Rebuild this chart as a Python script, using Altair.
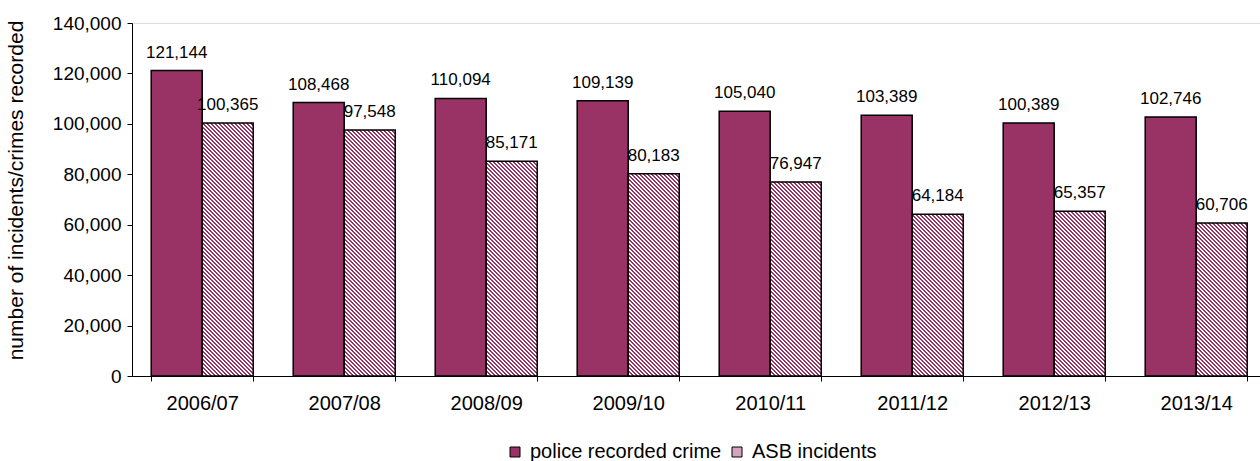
import math
import altair as alt
import pandas as pd

years = ["2006/07", "2007/08", "2008/09", "2009/10", "2010/11", "2011/12", "2012/13", "2013/14"]
crime = [121144, 108468, 110094, 109139, 105040, 103389, 100389, 102746]
asb = [100365, 97548, 85171, 80183, 76947, 64184, 65357, 60706]
series_names = ["police recorded crime", "ASB incidents"]

MAROON = "#993366"
FONT = "Liberation Sans"
PLOT_W, PLOT_H = 1128, 353
YMAX = 140000

rows = []
for y, c, a in zip(years, crime, asb):
    rows.append({"year": y, "series": series_names[0], "value": c, "label": f"{c:,}"})
    rows.append({"year": y, "series": series_names[1], "value": a, "label": f"{a:,}"})
df = pd.DataFrame(rows)

x_enc = alt.X(
    "year:N",
    sort=years,
    scale=alt.Scale(domain=years, paddingInner=0.2817, paddingOuter=0.1127, align=0.6),
    axis=alt.Axis(title=None, labelAngle=0, tickBand="extent", tickSize=5,
                  labelPadding=12, labelFontSize=20, labelFont=FONT,
                  labelColor="black", domainColor="black", tickColor="black"),
)
xo_enc = alt.XOffset("series:N", sort=series_names,
                     scale=alt.Scale(domain=series_names, paddingInner=0, paddingOuter=0))
y_enc = alt.Y(
    "value:Q",
    scale=alt.Scale(domain=[0, YMAX], nice=False),
    axis=alt.Axis(values=list(range(0, YMAX + 1, 20000)), format=",.0f", grid=False,
                  title="number of incidents/crimes recorded", tickSize=5, labelPadding=6,
                  labelFontSize=19, labelFont=FONT, labelColor="black",
                  titleFontSize=21, titleFont=FONT, titleFontWeight="normal", titleColor="black",
                  titleX=-116, titleY=167, titleAngle=270, titleAlign="center",
                  titleBaseline="middle", domainColor="black", tickColor="black"),
)


def hatch(W, H, period=4.0, frac=0.55):
    k = (W + H) / (W * W + H * H)
    n = int(math.ceil((W + H) / period)) + 1
    step = period / (W + H)
    stops = []
    for i in range(n):
        a = i * step
        b = a + frac * step
        c = a + step
        if a > 1:
            break
        stops.append({"offset": round(min(a, 1), 5), "color": MAROON})
        stops.append({"offset": round(min(b, 1), 5), "color": MAROON})
        stops.append({"offset": round(min(b, 1), 5), "color": "white"})
        stops.append({"offset": round(min(c, 1), 5), "color": "white"})
    return {"gradient": "linear", "x1": 0, "y1": 1, "x2": round(k * W, 6),
            "y2": round(1 - k * H, 6), "stops": stops}


base = alt.Chart(df)

crime_bars = base.mark_bar(stroke="black", strokeWidth=1.5).encode(
    x=x_enc, xOffset=xo_enc, y=y_enc,
    color=alt.Color(
        "series:N",
        scale=alt.Scale(domain=series_names, range=[MAROON, "#d4a6bd"]),
        legend=alt.Legend(
            title=None, orient="none", legendX=373, legendY=419, direction="horizontal",
            symbolType="square", symbolSize=100, symbolStrokeColor="black",
            symbolStrokeWidth=1, labelFontSize=20, labelFont=FONT, labelColor="black",
            columnPadding=5, labelOffset=5, labelLimit=400,
        ),
    ),
).transform_filter(alt.datum.series == series_names[0])

bar_w = PLOT_W / (8 - 0.2817 + 2 * 0.1127) * (1 - 0.2817) / 2
asb_layers = []
for y, a in zip(years, asb):
    H = a * PLOT_H / YMAX
    asb_layers.append(
        base.mark_bar(stroke="black", strokeWidth=1.5, fill=hatch(bar_w, H)).encode(
            x=x_enc, xOffset=xo_enc, y=y_enc
        ).transform_filter(
            (alt.datum.series == series_names[1]) & (alt.datum.year == y)
        )
    )

labels = base.mark_text(fontSize=17, font=FONT, dy=-13, baseline="alphabetic",
                        align="center", color="black").encode(
    x=x_enc, xOffset=xo_enc, y=y_enc, text="label:N"
)

chart = alt.layer(crime_bars, *asb_layers, labels).properties(
    width=PLOT_W, height=PLOT_H,
    padding={"left": 132, "top": 23, "right": 0, "bottom": 85},
    autosize="none",
).configure_view(stroke=None).configure(background="white")

chart.save("out.html", embed_options={"renderer": "svg", "actions": False})
